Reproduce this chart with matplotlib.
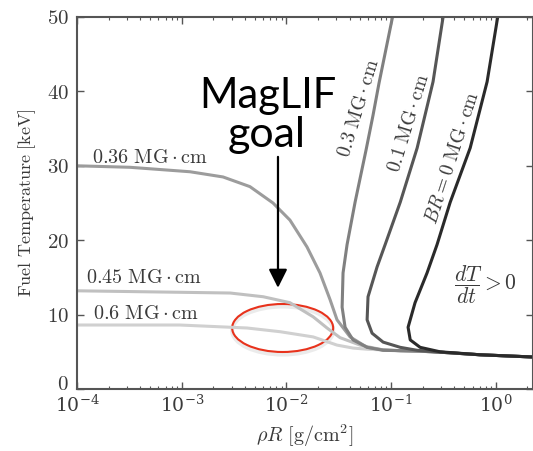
import numpy as np
import matplotlib
matplotlib.use('Agg')
from matplotlib import pyplot as plt
from matplotlib import transforms
from matplotlib.patches import Ellipse
from matplotlib.ticker import FuncFormatter, LogLocator, NullFormatter

plt.rcParams['mathtext.fontset'] = 'cm'
plt.rcParams['font.family'] = 'DejaVu Serif'

# ---- values: rhoR [g/cm^2], T [keV] ----
# left-hand curves (high B*R)
rhoR_060 = [1e-4, 9.6e-4, 4.2e-3, 8.7e-3, 1.8e-2, 3.04e-2, 4.33e-2, 5.89e-2, 8.38e-2, 0.122, 0.177, 0.293, 0.706, 2.26]
T_060 = [8.6, 8.6, 8.2, 7.7, 7.0, 5.9, 5.5, 5.35, 5.25, 5.15, 5.1, 4.95, 4.6, 4.3]

rhoR_045 = [1e-4, 9.6e-4, 2.9e-3, 6.0e-3, 1.08e-2, 1.8e-2, 2.44e-2, 3.25e-2, 5.05e-2,
            8.38e-2, 0.122, 0.177, 0.293, 0.706, 2.26]
T_045 = [13.2, 13.0, 12.9, 12.4, 11.6, 9.7, 8.2, 6.9, 5.9, 5.25, 5.15, 5.1, 4.95, 4.6, 4.3]

rhoR_036 = [1e-4, 3.2e-4, 1.2e-3, 2.48e-3, 4.48e-3, 7.44e-3, 1.08e-2, 1.57e-2, 2.09e-2, 2.61e-2,
            3.04e-2, 4.05e-2, 5.89e-2, 8.38e-2, 0.122, 0.177, 0.293, 0.706, 2.26]
T_036 = [30.0, 29.8, 29.2, 28.5, 27.2, 25.0, 22.7, 19.1, 15.6, 12.0,
         9.3, 7.0, 5.6, 5.25, 5.15, 5.1, 4.95, 4.6, 4.3]

# right-hand curves (coming down from the top)
rhoR_030 = [0.103, 0.0765, 0.0671, 0.0575, 0.0452, 0.0379, 0.0347, 0.0340, 0.0363, 0.0432,
            0.0589, 0.0838, 0.122, 0.177, 0.293, 0.706, 2.26]
T_030 = [50.0, 41.1, 36.8, 32.1, 25.1, 19.4, 15.6, 11.0, 8.3, 6.6,
         5.6, 5.2, 5.15, 5.1, 4.95, 4.6, 4.3]

rhoR_010 = [0.313, 0.251, 0.177, 0.122, 0.0875, 0.0733, 0.0601, 0.0589, 0.0657, 0.0838,
            0.122, 0.177, 0.293, 0.706, 2.26]
T_010 = [50.0, 41.3, 32.4, 25.1, 19.4, 16.4, 12.4, 9.3, 7.5, 6.3,
         5.6, 5.2, 4.95, 4.6, 4.3]

rhoR_000 = [1.04, 0.824, 0.568, 0.366, 0.274, 0.220, 0.169, 0.145, 0.152, 0.189, 0.293, 0.706, 2.26]
T_000 = [50.0, 41.3, 32.4, 25.1, 19.4, 15.6, 11.6, 8.3, 6.6, 5.6, 5.0, 4.6, 4.3]

curves = [
    (rhoR_060, T_060, '#d0d0d0'),
    (rhoR_045, T_045, '#c0c0c0'),
    (rhoR_036, T_036, '#9c9c9c'),
    (rhoR_030, T_030, '#808080'),
    (rhoR_010, T_010, '#565656'),
    (rhoR_000, T_000, '#2a2a2a'),
]

y_ticks = [0, 10, 20, 30, 40, 50]

fig = plt.figure(figsize=(5.33, 4.51), dpi=100)
ax = fig.add_axes([77 / 533, 62 / 451, 456 / 533, 372 / 451])

for x, y, c in curves:
    ax.plot(x, y, color=c, lw=2.2, solid_capstyle='round', solid_joinstyle='round')

ax.set_xscale('log')
ax.set_xlim(1e-4, 2.26)
ax.set_ylim(0, 50)
ax.set_yticks(y_ticks)
ax.yaxis.set_major_formatter(FuncFormatter(lambda v, p: r'$%d$' % v))
ax.xaxis.set_minor_locator(LogLocator(base=10, subs=np.arange(2, 10)))
ax.xaxis.set_minor_formatter(NullFormatter())

tc = '#3a3a3a'
for s in ax.spines.values():
    s.set_color('#555555')
    s.set_linewidth(1.5)
ax.tick_params(which='both', direction='in', top=True, right=True, color='#555555',
               labelcolor=tc)
ax.tick_params(which='major', length=5, width=1.0)
ax.tick_params(which='minor', length=2.5, width=0.8)
ax.tick_params(axis='x', pad=4, labelsize=13.5)
ax.tick_params(axis='y', pad=6, labelsize=15)

# nudge the "0" label up a little so it clears 10^-4
fig.canvas.draw()
zero_lab = ax.yaxis.get_major_ticks()[0].label1
zero_lab.set_transform(zero_lab.get_transform() +
                       transforms.ScaledTranslation(0, 5 / 72, fig.dpi_scale_trans))

ax.set_xlabel(r'$\rho R\ [\mathrm{g/cm^2}]$', fontsize=14.5, color=tc, labelpad=5)
ax.set_ylabel(r'$\mathrm{Fuel\ Temperature\ [keV]}$', fontsize=13, color=tc, labelpad=6)

# curve labels
lab_fs = 14.5
ax.text(1.39e-4, 30.4, r'$0.36\ \mathrm{MG}\cdot\mathrm{cm}$', fontsize=lab_fs, color=tc,
        ha='left', va='baseline')
ax.text(1.22e-4, 14.2, r'$0.45\ \mathrm{MG}\cdot\mathrm{cm}$', fontsize=lab_fs, color=tc,
        ha='left', va='baseline')
ax.text(1.42e-4, 9.4, r'$0.6\ \mathrm{MG}\cdot\mathrm{cm}$', fontsize=lab_fs, color=tc,
        ha='left', va='baseline')
ax.text(0.0493, 37.8, r'$0.3\ \mathrm{MG}\cdot\mathrm{cm}$', fontsize=14, color=tc,
        ha='center', va='center', rotation=73, rotation_mode='anchor')
ax.text(0.148, 35.8, r'$0.1\ \mathrm{MG}\cdot\mathrm{cm}$', fontsize=14, color=tc,
        ha='center', va='center', rotation=73, rotation_mode='anchor')
ax.text(0.390, 31.0, r'$BR = 0\ \mathrm{MG}\cdot\mathrm{cm}$', fontsize=14, color=tc,
        ha='center', va='center', rotation=72, rotation_mode='anchor')
ax.text(0.80, 14.0, r'$\dfrac{dT}{dt} > 0$', fontsize=15.5, color=tc, ha='center', va='center')

# MagLIF goal annotation
ax.text(0.00667, 37.8, 'MagLIF', fontsize=30, family='Lato', color='black', ha='center', va='baseline')
ax.text(0.00640, 32.5, 'goal', fontsize=31, family='Lato', color='black', ha='center', va='baseline')
ax.annotate('', xy=(0.0083, 13.6), xytext=(0.0083, 31.2),
            arrowprops=dict(arrowstyle='-|>', color='black', lw=1.6, mutation_scale=28,
                            shrinkA=0, shrinkB=0))

goal_x, goal_T = 0.0092, 8.2
trans = fig.dpi_scale_trans + transforms.ScaledTranslation(goal_x, goal_T, ax.transData)
shadow = Ellipse((0.0, -0.025), 1.01, 0.48, transform=trans, fill=False, ec='#000000',
                 lw=3, alpha=0.08)
ax.add_patch(shadow)
ring = Ellipse((0, 0), 1.01, 0.48, transform=trans, fill=False, ec='#e8321c', lw=1.5)
ax.add_patch(ring)

fig.savefig('out.png', dpi=100)
